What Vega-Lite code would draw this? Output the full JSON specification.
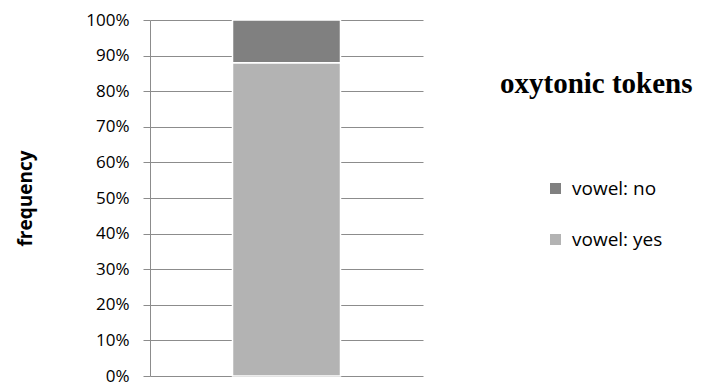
{
  "$schema": "https://vega.github.io/schema/vega-lite/v6.json",
  "autosize": "none",
  "width": 273,
  "height": 356,
  "padding": {"left": 150, "top": 20, "right": 283, "bottom": 9},
  "background": "white",
  "config": {"view": {"stroke": null}},
  "title": {
    "text": "oxytonic tokens",
    "orient": "top",
    "anchor": "start",
    "frame": "group",
    "dx": 350,
    "dy": 92,
    "font": "Liberation Serif",
    "fontSize": 29,
    "fontWeight": "bold",
    "color": "black"
  },
  "data": {
    "values": [
      {"group": "oxytonic", "category": "vowel: yes", "share": 0.88},
      {"group": "oxytonic", "category": "vowel: no", "share": 0.12}
    ]
  },
  "mark": {"type": "bar", "width": 108, "stroke": "white", "strokeWidth": 1.5},
  "encoding": {
    "x": {"field": "group", "type": "nominal", "axis": null},
    "y": {
      "field": "share",
      "type": "quantitative",
      "stack": "zero",
      "scale": {"domain": [0, 1]},
      "axis": {
        "format": "%",
        "values": [0, 0.1, 0.2, 0.3, 0.4, 0.5, 0.6, 0.7, 0.8, 0.9, 1],
        "labelOverlap": false,
        "title": "frequency",
        "titleFont": "Open Sans",
        "titleFontSize": 19,
        "titleFontWeight": "bold",
        "titleColor": "black",
        "titlePadding": 50,
        "labelFont": "Open Sans",
        "labelFontSize": 17,
        "labelColor": "black",
        "labelPadding": 14,
        "tickSize": 7,
        "tickColor": "#8c8c8c",
        "domainColor": "#8c8c8c",
        "gridColor": "#8c8c8c",
        "grid": true
      }
    },
    "color": {
      "field": "category",
      "type": "nominal",
      "scale": {"domain": ["vowel: no", "vowel: yes"], "range": ["#808080", "#b3b3b3"]},
      "legend": {
        "orient": "none",
        "legendX": 396,
        "legendY": 159,
        "title": null,
        "symbolType": "square",
        "symbolSize": 121,
        "symbolStrokeWidth": 0,
        "labelFont": "Open Sans",
        "labelFontSize": 19,
        "labelColor": "black",
        "rowPadding": 31,
        "labelOffset": 7
      }
    },
    "order": {"field": "category", "sort": "descending"}
  }
}
